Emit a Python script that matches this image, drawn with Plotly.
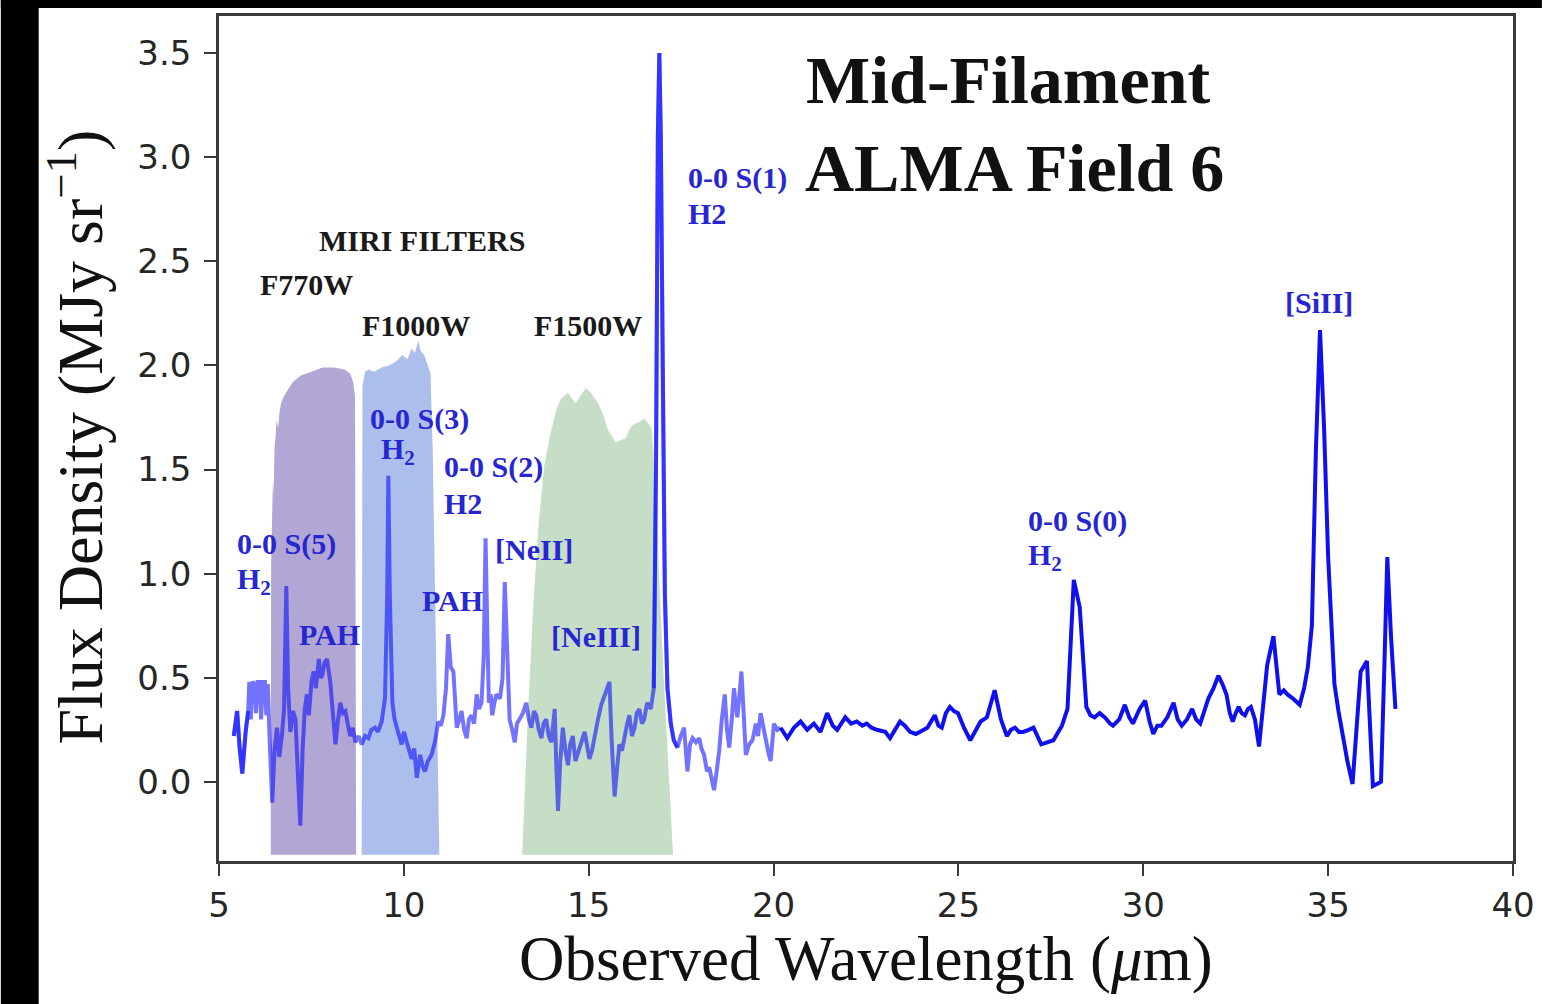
import numpy as np
import plotly.graph_objects as go

# ---------------- data ----------------
# short-wavelength spectrum (MIRI MRS, ch1-ch3)
wave_short = [5.40, 5.49, 5.56, 5.63, 5.72, 5.79, 5.82, 5.86, 5.90, 5.96, 6.00, 6.04, 6.10, 6.14, 6.18,
              6.24, 6.28, 6.32, 6.37, 6.44, 6.50, 6.57, 6.63, 6.70, 6.76, 6.82, 6.87, 6.93, 7.00, 7.07,
              7.13, 7.20, 7.26, 7.32, 7.38, 7.43, 7.50, 7.56, 7.62, 7.70, 7.75, 7.79, 7.85, 7.92, 8.01,
              8.08, 8.15, 8.22, 8.28, 8.35, 8.42, 8.48, 8.55, 8.62, 8.69, 8.78, 8.86, 8.95, 9.04, 9.12,
              9.22, 9.30, 9.40, 9.49, 9.55, 9.58, 9.62, 9.69, 9.75, 9.81, 9.88, 9.94, 10.00, 10.08, 10.14,
              10.21, 10.28, 10.35, 10.44, 10.50, 10.57, 10.65, 10.75, 10.85, 10.93, 11.00, 11.07, 11.14, 11.20, 11.27,
              11.34, 11.43, 11.50, 11.56, 11.63, 11.70, 11.76, 11.83, 11.90, 11.97, 12.03, 12.10, 12.16, 12.21, 12.26,
              12.30, 12.35, 12.39, 12.45, 12.50, 12.60, 12.67, 12.73, 12.79, 12.86, 12.93, 13.00, 13.06, 13.13, 13.22,
              13.31, 13.38, 13.45, 13.52, 13.58, 13.65, 13.72, 13.78, 13.85, 13.92, 13.99, 14.04, 14.08, 14.12, 14.17,
              14.23, 14.30, 14.37, 14.44, 14.50, 14.57, 14.64, 14.71, 14.80, 14.89, 14.95, 15.02, 15.09, 15.16, 15.25,
              15.34, 15.45, 15.56, 15.62, 15.70, 15.76, 15.83, 15.90, 15.97, 16.03, 16.10, 16.17, 16.24, 16.30, 16.37,
              16.44, 16.50, 16.58, 16.68, 16.76, 16.82, 16.87, 16.91, 16.95, 17.00, 17.06, 17.13, 17.22, 17.30, 17.40,
              17.49, 17.58, 17.67, 17.74, 17.81, 17.90, 17.99, 18.05, 18.12, 18.20, 18.26, 18.33, 18.39, 18.46, 18.53,
              18.60, 18.68, 18.74, 18.80, 18.87, 18.93, 18.98, 19.02, 19.08, 19.13, 19.20, 19.25, 19.34, 19.43, 19.52,
              19.58, 19.65, 19.72, 19.79, 19.86, 19.92, 20.01, 20.10, 20.19]
flux_short = [0.22, 0.34, 0.16, 0.04, 0.24, 0.34, 0.48, 0.30, 0.48, 0.47, 0.33, 0.48, 0.48, 0.30, 0.48,
              0.48, 0.32, 0.47, 0.20, -0.10, 0.15, 0.26, 0.12, 0.22, 0.35, 0.94, 0.45, 0.24, 0.34, 0.30,
              0.05, -0.21, 0.15, 0.35, 0.42, 0.32, 0.48, 0.53, 0.45, 0.59, 0.50, 0.51, 0.57, 0.59, 0.48,
              0.30, 0.18, 0.30, 0.38, 0.33, 0.34, 0.28, 0.22, 0.26, 0.19, 0.22, 0.18, 0.22, 0.21, 0.25,
              0.26, 0.24, 0.29, 0.40, 0.90, 1.47, 0.90, 0.38, 0.30, 0.26, 0.22, 0.18, 0.24, 0.19, 0.15,
              0.11, 0.16, 0.02, 0.13, 0.08, 0.05, 0.10, 0.13, 0.20, 0.29, 0.27, 0.32, 0.45, 0.71, 0.55,
              0.53, 0.26, 0.30, 0.34, 0.25, 0.21, 0.30, 0.32, 0.28, 0.42, 0.35, 0.38, 0.60, 1.17, 0.70,
              0.38, 0.42, 0.32, 0.38, 0.42, 0.40, 0.50, 0.96, 0.60, 0.30, 0.25, 0.19, 0.28, 0.30, 0.33,
              0.38, 0.30, 0.26, 0.34, 0.32, 0.25, 0.21, 0.28, 0.30, 0.22, 0.19, 0.30, 0.35, 0.10, -0.14,
              0.10, 0.26, 0.15, 0.08, 0.18, 0.22, 0.10, 0.14, 0.20, 0.24, 0.18, 0.11, 0.15, 0.22, 0.30,
              0.37, 0.42, 0.48, 0.20, -0.07, 0.05, 0.18, 0.15, 0.22, 0.27, 0.32, 0.22, 0.26, 0.33, 0.35,
              0.28, 0.30, 0.38, 0.35, 0.45, 1.50, 3.10, 3.50, 3.10, 2.00, 0.90, 0.45, 0.28, 0.20, 0.165,
              0.22, 0.26, 0.05, 0.18, 0.21, 0.19, 0.21, 0.16, 0.13, 0.05, 0.07, 0.02, -0.04, 0.05, 0.15,
              0.30, 0.42, 0.25, 0.165, 0.30, 0.45, 0.36, 0.31, 0.42, 0.53, 0.30, 0.13, 0.18, 0.20, 0.28,
              0.22, 0.33, 0.26, 0.20, 0.14, 0.10, 0.28, 0.25, 0.26]

# long-wavelength spectrum (ch3-ch4)
wave_long = [20.19, 20.37, 20.55, 20.73, 20.91, 21.09, 21.27, 21.45, 21.60, 21.72, 21.94, 22.10, 22.25, 22.40,
             22.52, 22.65, 22.79, 23.02, 23.15, 23.28, 23.42, 23.55, 23.69, 23.85, 24.05, 24.16, 24.36, 24.46,
             24.55, 24.66, 24.77, 24.88, 24.99, 25.15, 25.32, 25.45, 25.60, 25.77, 25.98, 26.15, 26.31, 26.42,
             26.53, 26.64, 26.75, 26.90, 27.03, 27.24, 27.40, 27.57, 27.70, 27.80, 27.95, 28.12, 28.28, 28.46,
             28.57, 28.68, 28.82, 28.96, 29.10, 29.18, 29.35, 29.50, 29.62, 29.72, 29.90, 30.05, 30.17, 30.27,
             30.38, 30.49, 30.65, 30.82, 30.93, 31.04, 31.18, 31.32, 31.43, 31.54, 31.65, 31.76, 31.90, 32.03,
             32.14, 32.25, 32.34, 32.42, 32.50, 32.58, 32.66, 32.75, 32.83, 32.91, 33.02, 33.13, 33.25, 33.35,
             33.52, 33.60, 33.68, 33.80, 33.90, 34.05, 34.23, 34.35, 34.45, 34.56, 34.67, 34.78, 34.89, 35.00,
             35.09, 35.17, 35.28, 35.39, 35.52, 35.66, 35.77, 35.88, 36.05, 36.12, 36.21, 36.32, 36.43, 36.52,
             36.60, 36.70, 36.82]
flux_long = [0.26, 0.21, 0.26, 0.29, 0.25, 0.28, 0.24, 0.33, 0.27, 0.25, 0.31, 0.28, 0.29, 0.27,
             0.28, 0.26, 0.25, 0.24, 0.21, 0.25, 0.29, 0.27, 0.24, 0.23, 0.25, 0.26, 0.32, 0.27,
             0.26, 0.33, 0.36, 0.34, 0.33, 0.26, 0.20, 0.24, 0.29, 0.31, 0.44, 0.30, 0.22, 0.25,
             0.26, 0.24, 0.24, 0.25, 0.26, 0.18, 0.19, 0.20, 0.24, 0.27, 0.35, 0.97, 0.84, 0.36,
             0.32, 0.31, 0.33, 0.31, 0.28, 0.27, 0.30, 0.37, 0.31, 0.28, 0.35, 0.39, 0.29, 0.23,
             0.27, 0.27, 0.31, 0.38, 0.30, 0.27, 0.30, 0.35, 0.30, 0.28, 0.34, 0.40, 0.45, 0.51,
             0.47, 0.42, 0.33, 0.29, 0.33, 0.36, 0.33, 0.32, 0.35, 0.36, 0.30, 0.17, 0.38, 0.56,
             0.70, 0.55, 0.42, 0.44, 0.42, 0.40, 0.37, 0.45, 0.55, 0.75, 1.60, 2.17, 1.70, 1.08,
             0.70, 0.47, 0.34, 0.23, 0.10, -0.01, 0.25, 0.53, 0.58, 0.35, -0.02, -0.01, 0.00, 0.55,
             1.08, 0.70, 0.35]

# MIRI filter throughput curves (scaled for display)
f770w_wave = [6.40, 6.41, 6.44, 6.46, 6.48, 6.50, 6.53, 6.56, 6.60, 6.64, 6.68, 6.75, 6.85, 7.00, 7.20,
              7.50, 7.80, 8.10, 8.40, 8.55, 8.63, 8.68, 8.71]
f770w_top = [-0.35, 1.05, 1.30, 1.45, 1.38, 1.60, 1.66, 1.74, 1.70, 1.78, 1.82, 1.85, 1.88, 1.92, 1.95,
             1.97, 1.99, 1.99, 1.98, 1.96, 1.92, 1.85, -0.35]
f1000w_wave = [8.86, 8.88, 8.95, 9.05, 9.20, 9.40, 9.60, 9.80, 9.95, 10.10, 10.20, 10.30, 10.39, 10.45,
               10.55, 10.65, 10.72, 10.78, 10.96]
f1000w_top = [-0.35, 1.90, 1.97, 1.98, 1.97, 1.99, 2.00, 2.02, 2.05, 2.03, 2.08, 2.06, 2.12, 2.07,
              2.05, 2.00, 1.96, 1.60, -0.35]
f1500w_wave = [13.20, 13.35, 13.50, 13.65, 13.80, 13.95, 14.11, 14.25, 14.44, 14.55, 14.65, 14.80, 14.92,
               15.05, 15.25, 15.40, 15.52, 15.63, 15.73, 15.85, 16.00, 16.12, 16.24, 16.38, 16.51, 16.62,
               16.70, 16.80, 17.00, 17.28]
f1500w_top = [-0.35, 0.30, 0.85, 1.25, 1.52, 1.66, 1.78, 1.84, 1.87, 1.84, 1.82, 1.86, 1.89,
              1.87, 1.82, 1.76, 1.69, 1.66, 1.63, 1.64, 1.65, 1.70, 1.72, 1.73, 1.745, 1.72,
              1.70, 1.45, 0.60, -0.35]
filter_base = -0.35

# ---------------- figure ----------------
fig = go.Figure()

filters = [(f770w_wave, f770w_top, "rgb(178,166,212)"),
           (f1000w_wave, f1000w_top, "rgb(172,190,236)"),
           (f1500w_wave, f1500w_top, "rgb(198,222,198)")]
for w, t, c in filters:
    xs = list(w) + list(w[::-1])
    ys = list(t) + [filter_base] * len(w)
    fig.add_trace(go.Scatter(x=xs, y=ys, fill="toself", fillcolor=c, mode="none",
                             hoverinfo="skip", showlegend=False))

ws = np.array(wave_short)
fs = np.array(flux_short)
line_alpha = "rgba(0,0,255,0.55)"
fig.add_trace(go.Scatter(x=ws, y=fs, mode="lines", line=dict(color=line_alpha, width=4),
                         showlegend=False))
for lo, hi in [(5.39, 5.80), (16.70, 17.45)]:
    m = (ws >= lo) & (ws <= hi)
    fig.add_trace(go.Scatter(x=ws[m], y=fs[m], mode="lines", line=dict(color=line_alpha, width=4),
                             showlegend=False))
fig.add_trace(go.Scatter(x=wave_long, y=flux_long, mode="lines", line=dict(color="#1010ee", width=4),
                         showlegend=False))

serif = "Liberation Serif"
blue_txt = "#2626d2"
ann = []

def label(text, x, y, color=blue_txt, size=30, xanchor="center"):
    ann.append(dict(text="<b>" + text + "</b>", x=x, y=y, xref="x", yref="y", showarrow=False,
                    xanchor=xanchor, yanchor="middle",
                    font=dict(family=serif, size=size, color=color)))

label("Mid-Filament", 26.36, 3.37, color="#111111", size=68)
label("ALMA Field 6", 26.52, 2.95, color="#111111", size=68)
label("MIRI FILTERS", 10.50, 2.60, color="#1a1a1a")
label("F770W", 7.37, 2.39, color="#1a1a1a")
label("F1000W", 10.34, 2.19, color="#1a1a1a")
label("F1500W", 14.98, 2.19, color="#1a1a1a")
label("0-0 S(5)", 5.43, 1.144, xanchor="left")
label("H<sub>2</sub>", 5.43, 0.966, xanchor="left")
label("PAH", 7.99, 0.71)
label("0-0 S(3)", 10.42, 1.745)
label("H<sub>2</sub>", 9.85, 1.59)
label("0-0 S(2)", 11.04, 1.514, xanchor="left")
label("H2", 11.04, 1.337, xanchor="left")
label("PAH", 11.31, 0.87)
label("[NeII]", 13.52, 1.115)
label("[NeIII]", 15.19, 0.70)
label("0-0 S(1)", 17.62, 2.90, xanchor="left")
label("H2", 17.62, 2.73, xanchor="left")
label("0-0 S(0)", 26.84, 1.255, xanchor="left")
label("H<sub>2</sub>", 26.84, 1.08, xanchor="left")
label("[SiII]", 34.74, 2.30)

W, H = 1547, 1004
ml, mr, mt, mb = 219, 29, 16, 143
pw, ph = W - ml - mr, H - mt - mb

def px(xp):
    return (xp - ml) / pw

def py(yp):
    return (H - mb - yp) / ph

ann.append(dict(text="Observed Wavelength (<i>μ</i>m)", x=px(869), y=py(959), xref="paper", yref="paper",
                showarrow=False, xanchor="center", yanchor="middle",
                font=dict(family=serif, size=63, color="#111111")))
ann.append(dict(text="Flux Density (MJy sr<sup>−1</sup>)", x=px(76), y=py(437), xref="paper", yref="paper",
                showarrow=False, xanchor="center", yanchor="middle", textangle=-90,
                font=dict(family=serif, size=64, color="#111111")))

shapes = [
    dict(type="rect", xref="paper", yref="paper", x0=px(0), x1=px(38), y0=py(H), y1=py(0),
         fillcolor="black", line=dict(width=0), layer="above"),
    dict(type="rect", xref="paper", yref="paper", x0=px(0), x1=px(W), y0=py(8), y1=py(0),
         fillcolor="black", line=dict(width=0), layer="above"),
]

axis_common = dict(showgrid=False, zeroline=False, showline=True, mirror=True, linecolor="#3a3a3a",
                   linewidth=2.5, ticks="outside", ticklen=12, tickwidth=2, tickcolor="#3a3a3a",
                   tickfont=dict(family="DejaVu Sans", size=34, color="#262626"))

fig.update_layout(
    width=W, height=H,
    margin=dict(l=ml, r=mr, t=mt, b=mb),
    paper_bgcolor="white", plot_bgcolor="white",
    xaxis=dict(range=[5, 40], tickvals=[5, 10, 15, 20, 25, 30, 35, 40], ticklabelstandoff=0,
               **axis_common),
    yaxis=dict(range=[-0.38, 3.678], tickvals=[0.0, 0.5, 1.0, 1.5, 2.0, 2.5, 3.0, 3.5],
               ticktext=["0.0", "0.5", "1.0", "1.5", "2.0", "2.5", "3.0", "3.5"], ticklabelstandoff=6,
               **axis_common),
    annotations=ann,
    shapes=shapes,
    showlegend=False,
)

fig.write_html("out.html")
